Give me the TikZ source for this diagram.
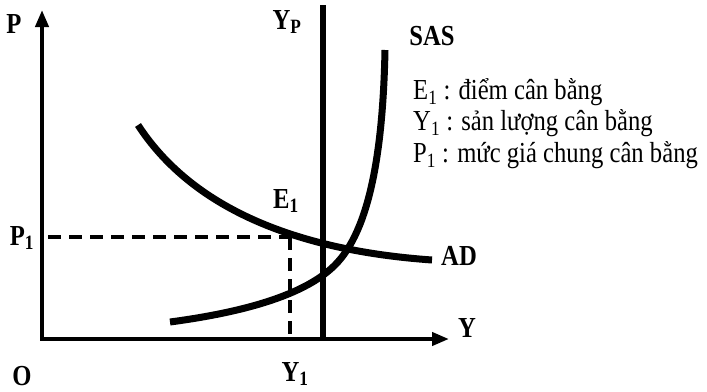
\documentclass[tikz,border=0pt]{standalone}
\usepackage{fontspec}
\setmainfont{Liberation Serif}[FakeStretch=0.85]
\usetikzlibrary{arrows.meta}

\begin{document}
\begin{tikzpicture}[x=1pt,y=-1pt,
  lbl/.style={font=\fontsize{29}{32}\selectfont\bfseries,inner sep=0pt},
  note/.style={font=\fontsize{29}{32}\selectfont,inner sep=0pt,anchor=west},
  axis/.style={line width=4pt,-{Triangle[length=17pt,width=13pt]}},
  curve/.style={line width=7pt}]
\useasboundingbox (0,0) rectangle (707,391);
\coordinate (o) at (42,339);
\coordinate (ptip) at (42,10);
\coordinate (ytip) at (449,339);
\coordinate (e) at (290,237);
\coordinate (ad0) at (138,125);
\coordinate (ad1) at (432,260);
\coordinate (sas0) at (170,322);
\coordinate (sasm) at (335,265);
\coordinate (sas1) at (385,50);
\coordinate (yp0) at (323,5);
\coordinate (yp1) at (323,337);
\node[lbl] (P) at (14,24) {P};
\node[lbl] (O) at (22,376) {O};
\node[lbl] (Y) at (467,328) {Y};
\node[lbl] (P1) at (22,238) {P\textsubscript{1}};
\node[lbl] (Y1) at (295,374) {Y\textsubscript{1}};
\node[lbl] (E1) at (286,201) {E\textsubscript{1}};
\node[lbl] (Yp) at (287,22) {Y\textsubscript{P}};
\node[lbl] (AD) at (459,256) {AD};
\node[lbl] (SAS) at (432,36) {SAS};
\node[note] (n1) at (413,92) {E\textsubscript{1} : điểm cân bằng};
\node[note] (n2) at (413,123) {Y\textsubscript{1} : sản lượng cân bằng};
\node[note] (n3) at (413,155) {P\textsubscript{1} : mức giá chung cân bằng};
\draw[axis] ([yshift=2pt]o) -- (ptip);
\draw[axis] ([xshift=-2pt]o) -- (ytip);
\draw[line width=3.5pt,dash pattern=on 13pt off 8pt] (o |- e) ++(6,0) -- (e);
\draw[line width=3.5pt,dash pattern=on 13pt off 8pt] (e) -- (e |- o);
\draw[line width=5.5pt] (yp0) -- (yp1);
\draw[curve] (ad0) .. controls (190,205) and (290,250) .. (ad1);
\draw[curve] (sas0) .. controls (260,310) and (310,290) .. (sasm)
  .. controls (370,230) and (383,150) .. (sas1);
\end{tikzpicture}
\end{document}
